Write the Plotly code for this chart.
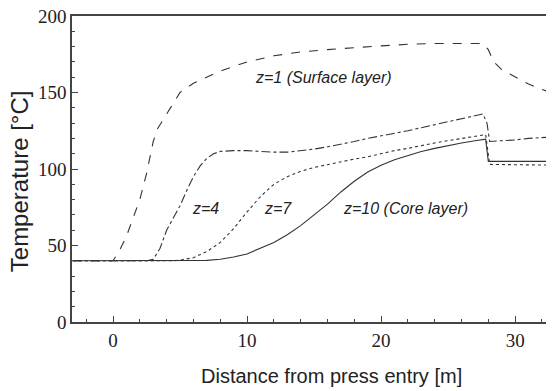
import plotly.graph_objects as go

# z=1 (surface layer)
x_z1 = [-3, 0, 0.5, 1, 1.5, 2, 2.5, 3, 3.3, 4, 5, 6, 7, 8, 9, 10, 12, 14, 16, 18, 20, 22, 24, 26, 27.6, 28, 28.4, 29, 30, 31, 32, 33]
y_z1 = [40, 40, 47, 56, 68, 80, 97, 118, 126, 136, 150, 156, 160, 164, 167, 170, 174, 176.5, 178, 179.5, 180.5, 181.5, 182, 182, 182, 178, 170, 165, 160, 155.5, 152, 149]

# z=4
x_z4 = [-3, 2.5, 3, 3.5, 4, 4.5, 5, 5.5, 6, 6.5, 7, 7.5, 8, 9, 10, 11, 12, 13, 14, 15, 16, 17, 18, 19, 20, 21, 22, 23, 24, 25, 26, 27, 27.6, 27.9, 28.1, 29, 30, 31, 32, 33]
y_z4 = [40, 40, 41, 48, 60, 68, 76, 86, 95, 102, 107, 110, 111.5, 112, 112, 111.5, 111, 111, 112, 113, 114.5, 116, 118, 120, 121.5, 123, 125, 127, 129, 131, 132.5, 134.5, 136, 130, 118, 118.5, 119, 120, 120.5, 121]

# z=7
x_z7 = [-3, 4.5, 5, 6, 7, 8, 9, 10, 11, 12, 13, 14, 15, 16, 17, 18, 19, 20, 21, 22, 23, 24, 25, 26, 27, 27.8, 28.1, 33]
y_z7 = [40, 40, 40.5, 42, 46, 52, 61, 72, 82, 90, 95, 98.5, 101, 103, 105, 106.5, 108, 110, 112, 113.5, 115.5, 117, 118.5, 120, 121.5, 122.5, 103, 102.5]

# z=10 (core layer)
x_z10 = [-3, 0, 5, 7, 8, 9, 10, 11, 12, 13, 14, 15, 16, 17, 18, 19, 20, 21, 22, 23, 24, 25, 26, 27, 27.8, 28, 33]
y_z10 = [40, 40, 40, 40.3, 41, 42.5, 44.5, 48, 52, 57, 63, 70, 77, 85, 92, 98, 102.5, 106, 109, 111.5, 113.5, 115.5, 117, 118.5, 119.5, 105, 105]

x_ticks = [0, 10, 20, 30]
y_ticks = [0, 50, 100, 150, 200]

series = [
    (x_z1, y_z1, "dash", "z=1"),
    (x_z4, y_z4, "dashdot", "z=4"),
    (x_z7, y_z7, "dot", "z=7"),
    (x_z10, y_z10, "solid", "z=10"),
]

fig = go.Figure()
for xs, ys, dash, name in series:
    fig.add_trace(go.Scatter(x=xs, y=ys, mode="lines", name=name,
                             line=dict(color="#333333", width=1.1, dash=dash)))

lbl_font = dict(family="Liberation Sans, Arial", size=16, color="#222222")
labels = [
    (15.7, 160, "<i>z=1 (Surface layer)</i>"),
    (6.9, 74, "<i>z=4</i>"),
    (12.3, 74, "<i>z=7</i>"),
    (21.8, 74, "<i>z=10 (Core layer)</i>"),
]
for x, y, t in labels:
    fig.add_annotation(x=x, y=y, text=t, showarrow=False, font=lbl_font, xanchor="center", yanchor="middle")

fig.add_annotation(xref="paper", yref="paper", x=0.539, y=-0.176, text="Distance from press entry [m]",
                   showarrow=False, font=dict(family="Liberation Sans, Arial", size=20, color="#222222"),
                   xanchor="center", yanchor="middle")
fig.add_annotation(xref="paper", yref="paper", x=-0.11, y=0.46, text="Temperature [°C]", textangle=-90,
                   showarrow=False, font=dict(family="Liberation Sans, Arial", size=24, color="#222222"),
                   xanchor="center", yanchor="middle")

tick_font = dict(family="Liberation Serif, Times New Roman, serif", size=19, color="#222222")
fig.update_xaxes(range=[-3.06, 32.9], tickvals=x_ticks, ticktext=[str(v) for v in x_ticks],
                 ticks="inside", ticklen=6, tickcolor="#444444", tickwidth=1,
                 minor=dict(dtick=2, tick0=0, ticks="inside", ticklen=3, tickcolor="#444444"),
                 showline=True, linecolor="#444444", linewidth=1.5, mirror=True,
                 showgrid=False, zeroline=False, tickfont=tick_font, ticklabeloverflow="allow")
fig.update_yaxes(range=[0, 200], tickvals=y_ticks, ticktext=[str(v) for v in y_ticks],
                 ticks="inside", ticklen=6, tickcolor="#444444", tickwidth=1,
                 minor=dict(dtick=10, tick0=0, ticks="inside", ticklen=3, tickcolor="#444444"),
                 showline=True, linecolor="#444444", linewidth=1.5, mirror=False,
                 showgrid=False, zeroline=False, tickfont=tick_font, ticklabeloverflow="allow")

# the page body keeps its default 8px margin, so the figure is sized and placed with that in mind
fig.update_layout(width=546, height=383, margin=dict(l=64, r=0, t=8, b=69, autoexpand=False),
                  paper_bgcolor="white", plot_bgcolor="white", showlegend=False)
fig.write_html("out.html")
